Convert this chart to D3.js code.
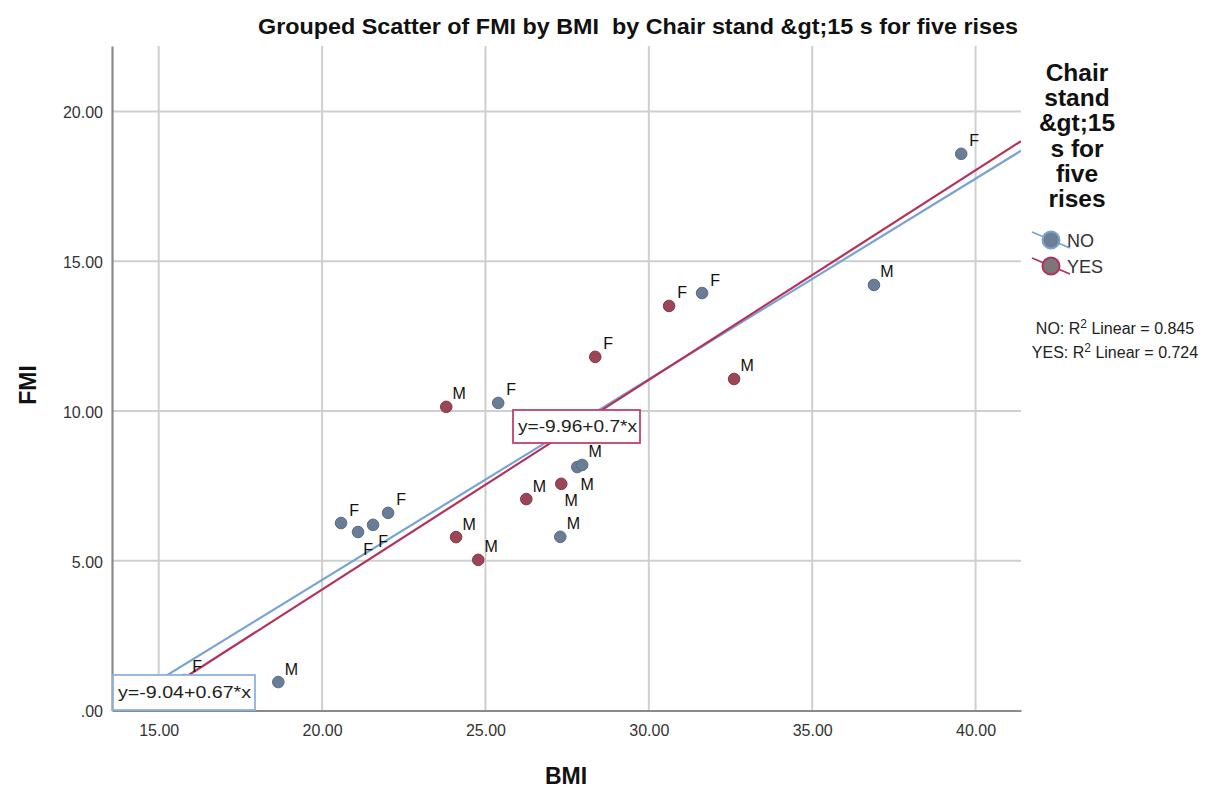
<!DOCTYPE html>
<html>
<head>
<meta charset="utf-8">
<script src="https://cdn.jsdelivr.net/npm/d3@7"></script>
<style>
  html, body { margin: 0; padding: 0; background: #ffffff; }
  svg { display: block; font-family: "Liberation Sans", Arial, sans-serif; }
  text { white-space: pre; }
</style>
</head>
<body>
<svg id="chart" width="1211" height="790"></svg>
<script>
// ---------------- data ----------------
const groups = ["NO", "YES"];

const noBMI = [39.56, 36.89, 31.63, 25.39, 27.81, 27.96, 27.29, 20.58, 21.10, 21.56, 22.02, 18.66, 15.78];
const noFMI = [18.59, 14.21, 13.94, 10.27, 8.13, 8.20, 5.80, 6.26, 5.96, 6.20, 6.60, 0.95, 1.02];
const noSex = ["F", "M", "F", "F", "M", "M", "M", "F", "F", "F", "F", "M", "F"];
const noLabelSide = ["ne", "ne", "ne", "ne", "se", "ne", "ne", "ne", "se", "se", "ne", "ne", "ne"];

const yesBMI = [30.62, 28.36, 32.61, 23.80, 27.32, 26.25, 24.10, 24.78];
const yesFMI = [13.51, 11.81, 11.07, 10.14, 7.57, 7.06, 5.79, 5.03];
const yesSex = ["F", "F", "M", "M", "M", "M", "M", "M"];
const yesLabelSide = ["ne", "ne", "ne", "ne", "se", "ne", "ne", "ne"];

// fit lines: intercept, slope
const fitIntercept = [-9.04, -9.96];
const fitSlope = [0.67, 0.70];
const fitLabels = ["y=-9.04+0.67*x", "y=-9.96+0.7*x"];
const rSquared = [0.845, 0.724];

const xTicks = [15, 20, 25, 30, 35, 40];
const yTicks = [0, 5, 10, 15, 20];
const xDomain = [13.57, 41.39];
const yDomain = [0, 22.19];

const titleText = "Grouped Scatter of FMI by BMI  by Chair stand &gt;15 s for five rises";
const legendTitleLines = ["Chair", "stand", "&gt;15", "s for", "five", "rises"];
const xTitle = "BMI";
const yTitle = "FMI";

// ---------------- layout / style ----------------
const svg = d3.select("#chart");
const plot = { left: 112, right: 1021, top: 46, bottom: 710.5 };

const pointFill = { NO: "#697d96", YES: "#9a4657" };
const pointStroke = { NO: "#5a6d85", YES: "#853a4a" };
const lineColor = { NO: "#78a3d3", YES: "#b5305a" };
const boxColor = { NO: "#8db2de", YES: "#c2416a" };

const x = d3.scaleLinear().domain(xDomain).range([plot.left, plot.right]);
const y = d3.scaleLinear().domain(yDomain).range([plot.bottom, plot.top]);

// gridlines
const grid = svg.append("g");
grid.selectAll("line.vx").data(xTicks).join("line")
  .attr("x1", d => x(d)).attr("x2", d => x(d))
  .attr("y1", plot.top).attr("y2", plot.bottom)
  .attr("stroke", "#cfcfcf").attr("stroke-width", 2);
grid.selectAll("line.hy").data(yTicks.filter(d => d > 0)).join("line")
  .attr("x1", plot.left).attr("x2", plot.right)
  .attr("y1", d => y(d)).attr("y2", d => y(d))
  .attr("stroke", "#cfcfcf").attr("stroke-width", 2);

// axes
const xAxis = d3.axisBottom(x).tickValues(xTicks).tickSize(0).tickPadding(14)
  .tickFormat(d => d.toFixed(2));
const yAxis = d3.axisLeft(y).tickValues(yTicks).tickSize(0).tickPadding(9)
  .tickFormat(d => d === 0 ? ".00" : d.toFixed(2));

const gx = svg.append("g").attr("transform", `translate(0,${plot.bottom})`).call(xAxis);
const gy = svg.append("g").attr("transform", `translate(${plot.left},0)`).call(yAxis);
[gx, gy].forEach(g => {
  g.select(".domain").attr("stroke", "#8a8a8a").attr("stroke-width", 2.2);
  g.selectAll("text").attr("font-size", 16).attr("fill", "#333")
    .attr("font-family", "Liberation Sans, Arial, sans-serif");
});
gy.selectAll(".tick text").attr("dy", "0.4em");

// clip
svg.append("clipPath").attr("id", "plotclip").append("rect")
  .attr("x", plot.left).attr("y", plot.top)
  .attr("width", plot.right - plot.left).attr("height", plot.bottom - plot.top);

// fit lines
const fitG = svg.append("g").attr("clip-path", "url(#plotclip)");
groups.forEach((g, i) => {
  const xs = xDomain;
  fitG.append("line")
    .attr("x1", x(xs[0])).attr("y1", y(fitIntercept[i] + fitSlope[i] * xs[0]))
    .attr("x2", x(xs[1])).attr("y2", y(fitIntercept[i] + fitSlope[i] * xs[1]))
    .attr("stroke", lineColor[g]).attr("stroke-width", 2.2);
});

// points
const series = [
  { g: "NO", bmi: noBMI, fmi: noFMI, sex: noSex, side: noLabelSide },
  { g: "YES", bmi: yesBMI, fmi: yesFMI, sex: yesSex, side: yesLabelSide }
];
const offsets = { ne: [13, -13], se: [10, 17] };

series.forEach(s => {
  const pts = s.bmi.map((b, i) => ({ b, f: s.fmi[i], sex: s.sex[i], side: s.side[i] }));
  const gg = svg.append("g");
  gg.selectAll("circle").data(pts).join("circle")
    .attr("cx", d => x(d.b)).attr("cy", d => y(d.f)).attr("r", 5.8)
    .attr("fill", pointFill[s.g]).attr("stroke", pointStroke[s.g]).attr("stroke-width", 1);
  gg.selectAll("text").data(pts).join("text")
    .attr("x", d => x(d.b) + offsets[d.side][0])
    .attr("y", d => y(d.f) + offsets[d.side][1])
    .attr("text-anchor", "middle").attr("dominant-baseline", "central")
    .attr("font-size", 16).attr("fill", "#111")
    .text(d => d.sex);
});

// equation boxes
const boxes = [
  { g: "NO", x: 113, y: 675, w: 142, h: 35, tl: 133 },
  { g: "YES", x: 513, y: 410, w: 127, h: 33, tl: 119 }
];
boxes.forEach((bx, i) => {
  const bg = svg.append("g");
  bg.append("rect").attr("x", bx.x).attr("y", bx.y).attr("width", bx.w).attr("height", bx.h)
    .attr("fill", "#fff").attr("stroke", boxColor[bx.g]).attr("stroke-width", 1.8);
  bg.append("text").attr("x", bx.x + 5).attr("y", bx.y + bx.h / 2)
    .attr("dominant-baseline", "central").attr("font-size", 16).attr("fill", "#222")
    .attr("textLength", bx.tl).attr("lengthAdjust", "spacingAndGlyphs")
    .text(fitLabels[i]);
});

// title
svg.append("text").attr("x", 638).attr("y", 34).attr("text-anchor", "middle")
  .attr("font-size", 22.5).attr("font-weight", "bold").attr("fill", "#111")
  .attr("textLength", 760).attr("lengthAdjust", "spacingAndGlyphs")
  .text(titleText);

// axis titles
svg.append("text").attr("x", 566).attr("y", 784).attr("text-anchor", "middle")
  .attr("font-size", 23).attr("font-weight", "bold").attr("fill", "#111").text(xTitle);
svg.append("text").attr("transform", "translate(36,385) rotate(-90)").attr("text-anchor", "middle")
  .attr("font-size", 23).attr("font-weight", "bold").attr("fill", "#111").text(yTitle);

// legend
const lg = svg.append("g");
lg.selectAll("text.lt").data(legendTitleLines).join("text")
  .attr("x", 1077).attr("y", (d, i) => 81 + i * 25.2)
  .attr("text-anchor", "middle").attr("font-size", 24.5).attr("font-weight", "bold")
  .attr("fill", "#111").text(d => d);

groups.forEach((g, i) => {
  const cy = 240 + i * 26;
  const cx = 1051;
  lg.append("line").attr("x1", cx - 19).attr("y1", cy - 8).attr("x2", cx + 19).attr("y2", cy + 8)
    .attr("stroke", lineColor[g]).attr("stroke-width", 1.8);
  lg.append("circle").attr("cx", cx).attr("cy", cy).attr("r", 8.5)
    .attr("fill", g === "NO" ? "#6c7f95" : "#7c7678").attr("stroke", lineColor[g]).attr("stroke-width", 2);
  lg.append("text").attr("x", cx + 16).attr("y", cy + 1).attr("dominant-baseline", "central")
    .attr("font-size", 18).attr("fill", "#333").text(g);
});

// R squared
groups.forEach((g, i) => {
  const t = lg.append("text").attr("x", 1115).attr("y", 334 + i * 24)
    .attr("text-anchor", "middle").attr("font-size", 16).attr("fill", "#222");
  t.append("tspan").text(g + ": R");
  t.append("tspan").attr("dy", -6).attr("font-size", 12).text("2");
  t.append("tspan").attr("dy", 6).text(" Linear = " + rSquared[i].toFixed(3));
});
</script>
</body>
</html>
